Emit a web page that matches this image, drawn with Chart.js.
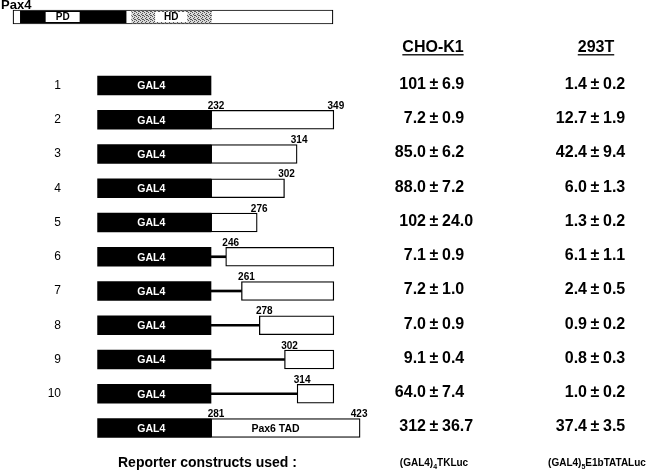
<!DOCTYPE html>
<html>
<head>
<meta charset="utf-8">
<script src="https://cdn.jsdelivr.net/npm/chart.js@4.4.1/dist/chart.umd.min.js"></script>
<style>
  html, body { margin: 0; padding: 0; background: #fff; }
  canvas { display: block; }
</style>
</head>
<body>
<canvas id="chart" width="653" height="472"></canvas>
<script>
// Construcciones GAL4-Pax4 (residuos de Pax4) y actividad relativa
const rowNumbers = [1, 2, 3, 4, 5, 6, 7, 8, 9, 10];
const fusionSite = 232;
const boxStart = [null, 232, 232, 232, 232, 246, 261, 278, 302, 314];
const boxEnd   = [null, 349, 314, 302, 276, 349, 349, 349, 349, 349];
const startLabels = [null, '232', null, null, null, '246', '261', '278', '302', '314'];
const endLabels   = [null, '349', '314', '302', '276', null, null, null, null, null];
const pax6Tad = [281, 423];

const choMean  = [101, 7.2, 85.0, 88.0, 102, 7.1, 7.2, 7.0, 9.1, 64.0, 312];
const choErr   = [6.9, 0.9, 6.2, 7.2, 24.0, 0.9, 1.0, 0.9, 0.4, 7.4, 36.7];
const t293Mean = [1.4, 12.7, 42.4, 6.0, 1.3, 6.1, 2.4, 0.9, 0.8, 1.0, 37.4];
const t293Err  = [0.2, 1.9, 9.4, 1.3, 0.2, 1.1, 0.5, 0.2, 0.3, 0.2, 3.5];

const pax4Length = 349;
const pax4PD = [9, 124];
const pax4HD = [130, 217];

const FONT = '"Liberation Sans", Arial, Helvetica, sans-serif';
const gal4Left = fusionSite - 108;  // ancho del dominio GAL4 en el esquema
const pax6Row = 11;
const pax4Row = -1;

function fmtMean(v) { return v >= 100 ? String(Math.round(v)) : v.toFixed(1); }

// patrón punteado para el homeodominio
function hdPattern() {
  const c = document.createElement('canvas');
  c.width = 4; c.height = 4;
  const g = c.getContext('2d');
  g.fillStyle = '#d8d8d8'; g.fillRect(0, 0, 4, 4);
  g.fillStyle = '#555';
  [[0,0],[2,1],[1,2],[3,3],[2,3]].forEach(p => g.fillRect(p[0], p[1], 1, 1));
  return g.createPattern(c, 'repeat');
}

// datos de barras
const gal4Bars = [];
const linkerBars = [];
const whiteBars = [];
rowNumbers.forEach((r, i) => {
  gal4Bars.push({ y: r, x: [gal4Left, fusionSite] });
  if (boxStart[i] == null) return;
  if (boxStart[i] > fusionSite) linkerBars.push({ y: r, x: [fusionSite, boxStart[i]] });
  whiteBars.push({ y: r, x: [boxStart[i], boxEnd[i]] });
});
gal4Bars.push({ y: pax6Row, x: [gal4Left, fusionSite] });
whiteBars.push({ y: pax6Row, x: [fusionSite, fusionSite + pax6Tad[1] - pax6Tad[0]] });

const textPlugin = {
  id: 'schemeText',
  afterDatasetsDraw(chart) {
    const ctx = chart.ctx;
    const xs = chart.scales.x, x2 = chart.scales.x2, ys = chart.scales.y;
    const py = v => ys.getPixelForValue(v);
    const px = v => xs.getPixelForValue(v);
    ctx.save();
    ctx.fillStyle = '#000';
    ctx.textBaseline = 'middle';

    // cabecera Pax4
    ctx.font = `bold 13px ${FONT}`;
    ctx.textAlign = 'left';
    ctx.fillText('Pax4', 1, 5);
    [['PD', 55, 34], ['HD', 173, 32]].forEach(([t, c, w]) => {
      const cx = x2.getPixelForValue(c);
      ctx.fillStyle = '#fff';
      ctx.fillRect(cx - w / 2, py(pax4Row) - 5, w, 10);
      ctx.fillStyle = '#000';
      ctx.font = `bold 10px ${FONT}`;
      ctx.textAlign = 'center';
      ctx.fillText(t, cx, py(pax4Row) + 0.5);
    });

    // columnas
    ctx.font = `bold 16px ${FONT}`;
    ctx.textAlign = 'center';
    [['CHO-K1', 433], ['293T', 596]].forEach(([t, cx]) => {
      const y = py(-0.12);
      ctx.fillText(t, cx, y);
      const w = ctx.measureText(t).width;
      ctx.fillRect(cx - w / 2, y + 7, w, 1.3);
    });

    // números de fila y GAL4
    ctx.font = `12px ${FONT}`;
    ctx.textAlign = 'right';
    rowNumbers.forEach(r => ctx.fillText(String(r), 61, py(r)));
    ctx.textAlign = 'center';
    ctx.font = `bold 10.5px ${FONT}`;
    ctx.fillStyle = '#fff';
    rowNumbers.concat([pax6Row]).forEach(r => {
      ctx.fillText('GAL4', (px(gal4Left) + px(fusionSite)) / 2 - 3, py(r) + 1);
    });
    ctx.fillStyle = '#000';
    ctx.fillText('Pax6 TAD', (px(fusionSite) + px(fusionSite + pax6Tad[1] - pax6Tad[0])) / 2 - 10, py(pax6Row) + 1);

    // etiquetas de residuos
    ctx.font = `bold 10px ${FONT}`;
    ctx.textBaseline = 'alphabetic';
    rowNumbers.forEach((r, i) => {
      const top = py(r) - 10;
      if (startLabels[i]) ctx.fillText(startLabels[i], px(boxStart[i]) + 5, top - 1);
      if (endLabels[i]) ctx.fillText(endLabels[i], px(boxEnd[i]) + 2, top - 1);
    });
    ctx.fillText(String(pax6Tad[0]), px(fusionSite) + 5, py(pax6Row) - 11);
    ctx.fillText(String(pax6Tad[1]), px(fusionSite + pax6Tad[1] - pax6Tad[0]) - 1, py(pax6Row) - 11);

    // valores
    ctx.textBaseline = 'middle';
    ctx.font = `bold 16px ${FONT}`;
    const drawVal = (m, e, pm, y) => {
      ctx.textAlign = 'right';  ctx.fillText(fmtMean(m), pm - 8, y);
      ctx.textAlign = 'center'; ctx.fillText('±', pm, y);
      ctx.textAlign = 'left';   ctx.fillText(e.toFixed(1), pm + 8, y);
    };
    choMean.forEach((m, i) => {
      const y = py(i + 1) - 1;
      drawVal(m, choErr[i], 434, y);
      drawVal(t293Mean[i], t293Err[i], 595, y);
    });

    // reporteros
    const yb = py(12.02);
    ctx.textAlign = 'left';
    ctx.font = `bold 14px ${FONT}`;
    ctx.fillText('Reporter constructs used :', 118, yb);
    const sub = (pre, s, post, cx) => {
      ctx.font = `bold 10px ${FONT}`;
      const w1 = ctx.measureText(pre).width, w3 = ctx.measureText(post).width;
      ctx.font = `bold 7px ${FONT}`;
      const w2 = ctx.measureText(s).width;
      let x = cx - (w1 + w2 + w3) / 2;
      ctx.font = `bold 10px ${FONT}`;
      ctx.fillText(pre, x, yb); x += w1;
      ctx.font = `bold 7px ${FONT}`;
      ctx.fillText(s, x, yb + 4); x += w2;
      ctx.font = `bold 10px ${FONT}`;
      ctx.fillText(post, x, yb);
    };
    sub('(GAL4)', '4', 'TKLuc', 434);
    sub('(GAL4)', '5', 'E1bTATALuc', 597);
    ctx.restore();
  }
};

const barCommon = { grouped: false, borderSkipped: false };

new Chart(document.getElementById('chart'), {
  type: 'bar',
  data: {
    datasets: [
      { ...barCommon, label: 'GAL4', data: gal4Bars, backgroundColor: '#000', barThickness: 19, order: 1 },
      { ...barCommon, label: 'linker', data: linkerBars, backgroundColor: '#000', barThickness: 2, order: 1 },
      { ...barCommon, label: 'Pax4', data: whiteBars, backgroundColor: '#fff', borderColor: '#000', borderWidth: 1.3, barThickness: 19, order: 2 },
      { ...barCommon, label: 'Pax4 full', xAxisID: 'x2', data: [{ y: pax4Row, x: [1, pax4Length] }], backgroundColor: '#fff', borderColor: '#000', borderWidth: 1.2, barThickness: 14, order: 3 },
      { ...barCommon, label: 'PD', xAxisID: 'x2', data: [{ y: pax4Row, x: pax4PD }], backgroundColor: '#000', barThickness: 12, order: 1 },
      { ...barCommon, label: 'HD', xAxisID: 'x2', data: [{ y: pax4Row, x: pax4HD }], backgroundColor: hdPattern(), barThickness: 12, order: 1 }
    ]
  },
  options: {
    indexAxis: 'y',
    responsive: false,
    animation: false,
    layout: { padding: 0 },
    plugins: { legend: { display: false }, tooltip: { enabled: false } },
    scales: {
      x: { type: 'linear', display: false, offset: false, min: fusionSite - 211 / 1.05, max: fusionSite + 442 / 1.05 },
      x2: { type: 'linear', display: false, offset: false, min: 1 - 13 / 0.9195, max: 1 + 640 / 0.9195 },
      y: { type: 'linear', display: false, offset: false, reverse: true, min: 1 - 85.5 / 34.25, max: 1 + 386.5 / 34.25 }
    }
  },
  plugins: [textPlugin]
});
</script>
</body>
</html>
